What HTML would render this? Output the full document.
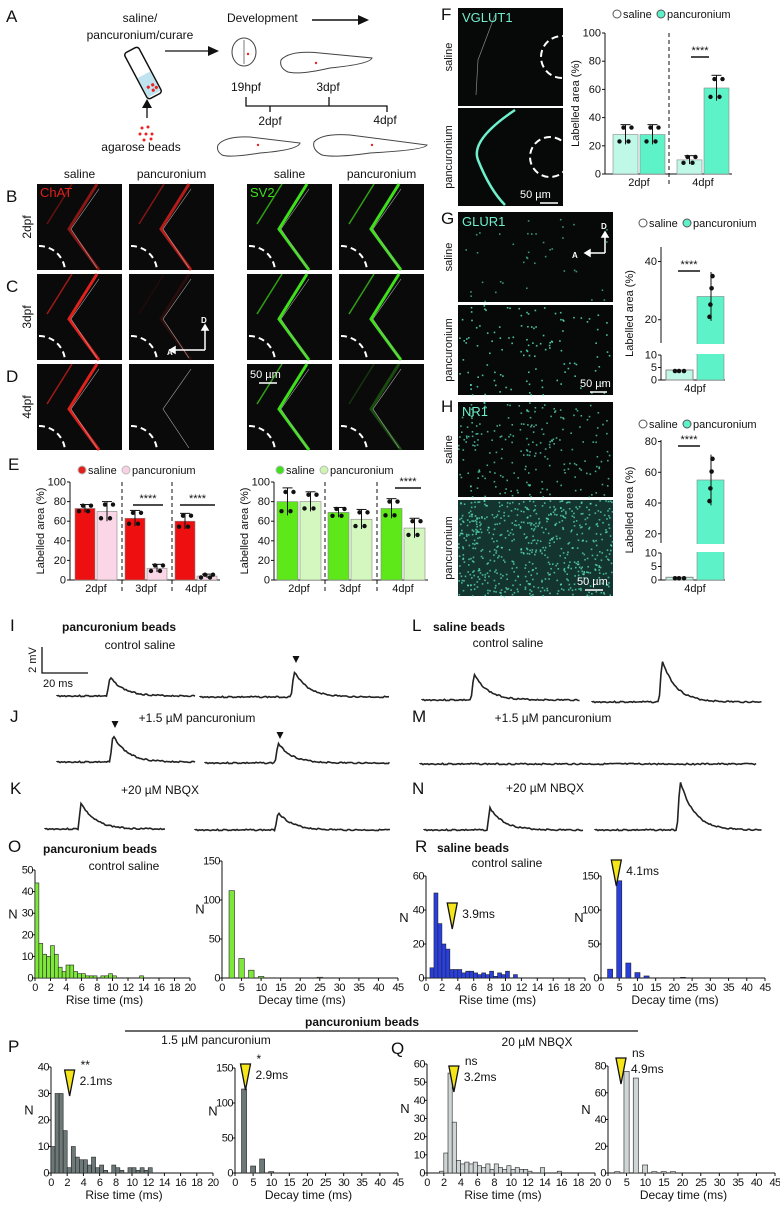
<!DOCTYPE html>
<html><head><meta charset="utf-8"><style>
html,body{margin:0;padding:0;background:#fff}
svg{display:block;font-family:"Liberation Sans",sans-serif}
.t{font-size:11px;fill:#111}
.tk{font-size:11px;fill:#111}
.L{font-size:17px;fill:#111}
.b{font-weight:bold}
</style></head><body>
<svg id="fig" width="780" height="1205" viewBox="0 0 780 1205">
<g>
<text class="L" x="6" y="22">A</text>
<text class="t" x="140" y="22" text-anchor="middle" style="font-size:12px">saline/</text>
<text class="t" x="140" y="39" text-anchor="middle" style="font-size:12px">pancuronium/curare</text>
<g transform="translate(143,73) rotate(-28)">
<rect x="-8" y="-26" width="16" height="52" rx="3" fill="#fff" stroke="#111" stroke-width="1.5"/>
<rect x="-7" y="2" width="14" height="22" fill="#bfe4ef"/>
<circle cx="-2" cy="15" r="1.6" fill="#e22"/><circle cx="3" cy="15" r="1.6" fill="#e22"/><circle cx="1" cy="20" r="1.6" fill="#e22"/><circle cx="5" cy="19" r="1.6" fill="#e22"/>
</g>
<line x1="165" y1="51" x2="210" y2="51" stroke="#111" stroke-width="1.3"/><polygon points="208,46 219,51 208,56" fill="#111"/>
<line x1="147" y1="118" x2="147" y2="106" stroke="#111" stroke-width="1.3"/><polygon points="142,108 147,99 152,108" fill="#111"/>
<g fill="#e22"><circle cx="142" cy="128" r="1.5"/><circle cx="148" cy="127" r="1.5"/><circle cx="140" cy="134" r="1.5"/><circle cx="146" cy="134" r="1.5"/><circle cx="152" cy="134" r="1.5"/><circle cx="144" cy="140" r="1.5"/><circle cx="151" cy="139" r="1.5"/></g>
<text class="t" x="141" y="151" text-anchor="middle" style="font-size:12px">agarose beads</text>
<text class="t" x="227" y="22" style="font-size:12px">Development</text>
<line x1="312" y1="20" x2="360" y2="20" stroke="#111" stroke-width="1.5"/><polygon points="358,15 369,20 358,25" fill="#111"/>
<ellipse cx="244" cy="52" rx="12" ry="14" fill="#fff" stroke="#444"/><line x1="244" y1="40" x2="244" y2="64" stroke="#444" stroke-width="0.7"/><circle cx="248" cy="54" r="1.2" fill="#e22"/>
<path d="M281,60 Q290,50 320,53 L372,58 Q370,64 330,68 Q300,75 288,72 Q279,68 281,60Z" fill="#fff" stroke="#444"/><circle cx="316" cy="63" r="1.2" fill="#e22"/>
<text class="t" x="246" y="91" text-anchor="middle" style="font-size:12px">19hpf</text>
<text class="t" x="328" y="91" text-anchor="middle" style="font-size:12px">3dpf</text>
<path d="M246,97 V106 H387 V112 M270,106 V112 M329,106 V97" fill="none" stroke="#111" stroke-width="1.3"/>
<text class="t" x="270" y="125" text-anchor="middle" style="font-size:12px">2dpf</text>
<text class="t" x="385" y="124" text-anchor="middle" style="font-size:12px">4dpf</text>
<path d="M218,145 Q225,136 250,137 L300,143 Q298,150 260,153 Q230,158 222,155 Q216,151 218,145Z" fill="#fff" stroke="#444"/><circle cx="258" cy="145" r="1.2" fill="#e22"/>
<path d="M314,142 Q322,133 350,135 L427,145 Q425,150 370,153 Q335,158 322,155 Q312,150 314,142Z" fill="#fff" stroke="#444"/><circle cx="372" cy="145" r="1.2" fill="#e22"/>
</g>
<g id="micro"></g>
<g id="echarts"></g>
<g id="fgh"></g>
<g id="traces"></g>
<g id="hists"></g>
</svg>
<script>
const eCategories = ["2dpf","3dpf","4dpf"];
const eChatSaline = [73,63,60];
const eChatPanc = [70,12,4];
const eChatSalineSd = [4,8,8];
const eChatPancSd = [10,4,2];
const eSv2Saline = [80,69,73];
const eSv2Panc = [80,62,53];
const eSv2SalineSd = [14,5,10];
const eSv2PancSd = [10,10,10];
const fCategories = ["2dpf","4dpf"];
const fSaline = [28,10];
const fPanc = [28,61];
const fSalineSd = [7,3];
const fPancSd = [7,9];
const gSaline = [4];
const gPanc = [28];
const hSaline = [1];
const hPanc = [55];
const riseTicks = [0,2,4,6,8,10,12,14,16,18,20];
const decayTicks = [0,5,10,15,20,25,30,35,40,45];
const oRise = [44,16,11,10,15,11,5,3,6,6,3,2,2,1,1,1,0,1,1,2,1,0,0,0,0,0,0,1];
const oDecay = [112,25,10,2,0,0,0,0,0,1];
const rRise = [0,6,50,32,20,17,5,5,5,3,4,4,3,2,3,2,4,1,3,2,4,0,2];
const rDecay = [13,143,22,8,3,0,0,0,1];
const pRise = [10,30,30,16,2,10,6,5,5,3,6,2,3,1,0,3,2,1,0,2,2,1,2,1,2];
const pDecay = [120,10,20,2];
const qRise = [0,0,0,1,11,55,28,7,5,6,5,6,4,3,5,2,5,3,2,4,2,3,2,2,1,0,0,3,0,0,0,1];
const qDecay = [1,76,71,6,1,1,1];
const traceAmps = {i:[19,26],j:[27,20],k:[26,18],l:[26,42],n:[22,50]};

const NS="http://www.w3.org/2000/svg";
function mk(parent,tag,attrs,text){const e=document.createElementNS(NS,tag);for(const k in attrs)e.setAttribute(k,attrs[k]);if(text!==undefined)e.textContent=text;parent.appendChild(e);return e;}

const micro=document.getElementById('micro');
const cols=[37,129,247,339], rows=[184,274,364], colW=85, rowH=86;
const colLabels=["saline","pancuronium","saline","pancuronium"];
cols.forEach((x,i)=>{const t=mk(micro,'text',{class:'t',x:x+colW/2,y:178,'text-anchor':'middle',style:'font-size:12px'},colLabels[i]);});
["B","C","D"].forEach((L,r)=>{mk(micro,'text',{class:'L',x:6,y:rows[r]+18},L);const t=mk(micro,'text',{class:'t',transform:`translate(31,${rows[r]+43}) rotate(-90)`,'text-anchor':'middle',style:'font-size:12px'},["2dpf","3dpf","4dpf"][r]);});
const strength=[[0.6,0.8,1,1],[1,0.15,1,1],[1,0,1,0.3]];
rows.forEach((y,r)=>cols.forEach((x,c)=>{
  const g=mk(micro,'g',{});
  
  
  mk(g,'rect',{x:x,y:y,width:colW,height:rowH,fill:'#0a0a0a'});
  const col=c<2?'#e0201a':'#3ee01a';const s=strength[r][c];
  const d=`M${x+60},${y} L${x+32},${y+45} L${x+62},${y+rowH}`;
  mk(g,'path',{d:d,stroke:col,'stroke-width':3,fill:'none',opacity:s});
  mk(g,'path',{d:`M${x+35},${y} L${x+10},${y+40}`,stroke:col,'stroke-width':1.5,fill:'none',opacity:s*0.7});
  mk(g,'path',{d:`M${x+62},${y+5} L${x+34},${y+45} L${x+60},${y+rowH-2}`,stroke:'#aaa','stroke-width':0.6,fill:'none'});
  mk(g,'path',{d:`M${x+2},${y+rowH-24} A26 26 0 0 1 ${x+28},${y+rowH}`,stroke:'#fff','stroke-width':2,'stroke-dasharray':'6 4',fill:'none'});
}));
mk(micro,'text',{x:40,y:197,fill:'#e0201a',style:'font-size:13px'},"ChAT");
mk(micro,'text',{x:250,y:197,fill:'#3ee01a',style:'font-size:13px'},"SV2");
mk(micro,'text',{x:250,y:378,fill:'#fff',style:'font-size:11px'},"50 µm");
mk(micro,'line',{x1:259,y1:383,x2:277,y2:383,stroke:'#fff','stroke-width':1.5});
mk(micro,'path',{d:'M205,350 H170 M170,350 l5,-3 v6z M205,350 V325 M205,325 l-3,5 h6z',stroke:'#fff','stroke-width':1.5,fill:'#fff'});
mk(micro,'text',{x:167,y:355,fill:'#fff',style:'font-size:8px','font-weight':'bold'},"A");
mk(micro,'text',{x:201,y:323,fill:'#fff',style:'font-size:8px','font-weight':'bold'},"D");

function barChart(g,o){
  const y=v=>o.y0-(v-o.vmin)/(o.vmax-o.vmin)*(o.y0-o.y1);
  mk(g,'line',{x1:o.ax,y1:o.y1,x2:o.ax,y2:o.y0,stroke:'#111'});
  mk(g,'line',{x1:o.ax,y1:o.y0,x2:o.xEnd,y2:o.y0,stroke:'#111'});
  o.ticks.forEach(t=>{mk(g,'line',{x1:o.ax-3,y1:y(t),x2:o.ax,y2:y(t),stroke:'#111'});mk(g,'text',{class:'tk',x:o.ax-4,y:y(t)+3.5,'text-anchor':'end'},t);});
  mk(g,'text',{class:'t',transform:`translate(${o.ax-26},${(o.y0+o.y1)/2}) rotate(-90)`,'text-anchor':'middle'},"Labelled area (%)");
  o.groups.forEach((gx,i)=>{
    [[o.s,o.ssd,o.c1,0],[o.p,o.psd,o.c2,1]].forEach(([arr,sd,c,k])=>{
      const bx=gx+k*(o.bw+2), v=arr[i];
      const r=mk(g,'rect',{x:bx,y:y(v),width:o.bw,height:o.y0-y(v),fill:c,stroke:'#888','stroke-width':0.6});
      
      
      const cx=bx+o.bw/2, e=sd?sd[i]:0;
      mk(g,'line',{x1:cx,y1:y(Math.min(o.vmax,v+e)),x2:cx,y2:y(Math.max(o.vmin,v-e)),stroke:'#111'});
      mk(g,'line',{x1:cx-5,y1:y(Math.min(o.vmax,v+e)),x2:cx+5,y2:y(Math.min(o.vmax,v+e)),stroke:'#111'});
      [-6,-2,3,6].forEach((dx,j)=>mk(g,'circle',{cx:cx+dx,cy:y(Math.max(o.vmin,v+(j%2?1:-1)*e*0.7)),r:2.2,fill:'#111'}));
    });
    mk(g,'text',{class:'tk',x:gx+o.bw+1,y:o.y0+12,'text-anchor':'middle'},o.cats[i]);
  });
  (o.dash||[]).forEach(dx=>mk(g,'line',{x1:dx,y1:o.y1,x2:dx,y2:o.y0+12,stroke:'#111','stroke-dasharray':'4 3'}));
  (o.sig||[]).forEach(s=>{mk(g,'line',{x1:s[0],y1:s[2],x2:s[1],y2:s[2],stroke:'#111','stroke-width':1.5});mk(g,'text',{class:'tk',x:(s[0]+s[1])/2,y:s[2]-3,'text-anchor':'middle'},"****");});
}
function legend(g,x,y,c1,c2,stroke){
  mk(g,'circle',{cx:x,cy:y-4,r:4,fill:c1,stroke:stroke});mk(g,'text',{class:'t',x:x+6,y:y},"saline");
  mk(g,'circle',{cx:x+44,cy:y-4,r:4,fill:c2,stroke:stroke});mk(g,'text',{class:'t',x:x+50,y:y},"pancuronium");
}
const E=document.getElementById('echarts');
mk(E,'text',{class:'L',x:8,y:470},"E");
legend(E,82,474,'#e0201a','#f9d0e4','#bbb');
legend(E,280,474,'#3ee01a','#cdf5b0','#bbb');
barChart(E,{ax:70,y0:580,y1:482,vmin:0,vmax:100,xEnd:220,ticks:[0,20,40,60,80,100],groups:[75,125,175],bw:20,cats:eCategories,s:eChatSaline,p:eChatPanc,ssd:eChatSalineSd,psd:eChatPancSd,c1:'#ee1010',c2:'#fad6e6',dash:[122,172],sig:[[133,163,505],[180,215,505]]});
barChart(E,{ax:274,y0:580,y1:482,vmin:0,vmax:100,xEnd:428,ticks:[0,20,40,60,80,100],groups:[277,328,381],bw:21,cats:eCategories,s:eSv2Saline,p:eSv2Panc,ssd:eSv2SalineSd,psd:eSv2PancSd,c1:'#5ee81a',c2:'#d3f7be',dash:[325,377],sig:[[395,421,488]]});

const F=document.getElementById('fgh');
function img(x,y,w,h,name){const g=mk(F,'g',{});mk(g,'rect',{x:x,y:y,width:w,height:h,fill:'#070808'});return g;}
mk(F,'text',{class:'L',x:441,y:20},"F");mk(F,'text',{class:'L',x:441,y:224},"G");mk(F,'text',{class:'L',x:441,y:412},"H");
[[8,106,"saline"],[108,206,"pancuronium"],[212,302,"saline"],[305,395,"pancuronium"],[402,497,"saline"],[500,596,"pancuronium"]].forEach(r=>mk(F,'text',{class:'t',transform:`translate(452,${(r[0]+r[1])/2}) rotate(-90)`,'text-anchor':'middle'},r[2]));
let g1=img(458,8,105,98,'vglut1-saline-image');mk(g1,'circle',{cx:562,cy:57,r:21,fill:'none',stroke:'#fff','stroke-width':2,'stroke-dasharray':'7 4'});mk(g1,'path',{d:'M495,15 L478,60 L476,95',stroke:'#888',fill:'none','stroke-width':0.7});
mk(F,'text',{x:462,y:22,fill:'#6ef0cc',style:'font-size:13px'},"VGLUT1");
let g2=img(458,108,105,98,'vglut1-pancuronium-image');mk(g2,'path',{d:'M515,110 Q470,140 478,160 Q490,190 505,205',stroke:'#6ef0cc',fill:'none','stroke-width':2.5});mk(g2,'circle',{cx:550,cy:157,r:20,fill:'none',stroke:'#fff','stroke-width':2,'stroke-dasharray':'7 4'});
mk(F,'text',{x:520,y:198,fill:'#fff',style:'font-size:11px'},"50 µm");mk(F,'line',{x1:540,y1:203,x2:558,y2:203,stroke:'#fff','stroke-width':1.5});
let g3=img(458,212,155,90,'glur1-saline-image');
let g4=img(458,305,155,90,'glur1-pancuronium-image');
mk(F,'text',{x:462,y:226,fill:'#6ef0cc',style:'font-size:13px'},"GLUR1");
mk(F,'text',{x:580,y:387,fill:'#fff',style:'font-size:11px'},"50 µm");mk(F,'line',{x1:590,y1:392,x2:607,y2:392,stroke:'#fff','stroke-width':1.5});
mk(F,'path',{d:'M605,253 H585 M585,253 l5,-3 v6z M605,253 V232 M605,232 l-3,5 h6z',stroke:'#fff','stroke-width':1.5,fill:'#fff'});
mk(F,'text',{x:572,y:258,fill:'#fff',style:'font-size:8px','font-weight':'bold'},"A");mk(F,'text',{x:601,y:229,fill:'#fff',style:'font-size:8px','font-weight':'bold'},"D");
let g5=img(458,402,155,95,'nr1-saline-image');
let g6=img(458,500,155,96,'nr1-pancuronium-image');mk(g6,'rect',{x:458,y:500,width:155,height:96,fill:'#1f5a52',opacity:0.55});
mk(F,'text',{x:462,y:416,fill:'#6ef0cc',style:'font-size:13px'},"NR1");
mk(F,'text',{x:577,y:585,fill:'#fff',style:'font-size:11px'},"50 µm");mk(F,'line',{x1:585,y1:590,x2:603,y2:590,stroke:'#fff','stroke-width':1.5});
function speckle(g,x,y,w,h,n,op){let s=7;for(let i=0;i<n;i++){s=(s*9301+49297)%233280;const a=s/233280;s=(s*9301+49297)%233280;const b=s/233280;mk(g,'rect',{x:x+a*w,y:y+b*h,width:1.6,height:1.6,fill:'#5ef0c8',opacity:op});}}
speckle(g3,458,212,155,90,40,0.6);speckle(g4,458,305,155,90,120,0.8);speckle(g5,458,402,155,95,220,0.7);speckle(g6,458,500,155,96,600,0.7);
legend(F,617,18,'#fff','#5ef0c8','#555');
barChart(F,{ax:605,y0:174,y1:33,vmin:0,vmax:100,xEnd:732,ticks:[0,20,40,60,80,100],groups:[613,677],bw:25,cats:fCategories,s:fSaline,p:fPanc,ssd:fSalineSd,psd:fPancSd,c1:'#c0f8e8',c2:'#5ef2c8',dash:[669],sig:[[691,709,57]]});
legend(F,643,227,'#fff','#5ef0c8','#555');
function brokenChart(o,s,p){
  const g=mk(F,'g',{});
  
  
  const yl=v=>o.y0-v/o.lowMax*(o.y0-o.yb1);
  const yh=v=>o.yb2-(v-o.hiMin)/(o.hiMax-o.hiMin)*(o.yb2-o.y1);
  const Y=v=>v<=o.lowMax?yl(v):yh(v);
  mk(g,'line',{x1:o.ax,y1:o.y1,x2:o.ax,y2:o.yb2,stroke:'#111'});mk(g,'line',{x1:o.ax,y1:o.yb1,x2:o.ax,y2:o.y0,stroke:'#111'});
  mk(g,'line',{x1:o.ax,y1:o.y0,x2:o.ax+64,y2:o.y0,stroke:'#111'});
  o.lowTicks.forEach(t=>{mk(g,'line',{x1:o.ax-3,y1:yl(t),x2:o.ax,y2:yl(t),stroke:'#111'});mk(g,'text',{class:'tk',x:o.ax-4,y:yl(t)+3.5,'text-anchor':'end'},t);});
  o.hiTicks.forEach(t=>{mk(g,'line',{x1:o.ax-3,y1:yh(t),x2:o.ax,y2:yh(t),stroke:'#111'});mk(g,'text',{class:'tk',x:o.ax-4,y:yh(t)+3.5,'text-anchor':'end'},t);});
  mk(g,'text',{class:'t',transform:`translate(${o.ax-28},${(o.y0+o.y1)/2}) rotate(-90)`,'text-anchor':'middle'},"Labelled area (%)");
  const b1=mk(g,'rect',{x:o.ax+5,y:Y(s[0]),width:27,height:o.y0-Y(s[0]),fill:'#c0f8e8',stroke:'#888'});
  
  
  const b2=mk(g,'rect',{x:o.ax+36,y:Y(p[0]),width:27,height:o.y0-Y(p[0]),fill:'#5ef2c8',stroke:'#888','stroke-width':0.6});
  
  
  mk(g,'rect',{x:o.ax+30,y:o.yb2+1,width:40,height:o.yb1-o.yb2-2,fill:'#fff'});
  mk(g,'line',{x1:o.ax+50,y1:Y(p[0]*1.3),x2:o.ax+50,y2:Y(p[0]*0.7),stroke:'#111'});
  [0.75,0.9,1.1,1.25].forEach(f=>mk(g,'circle',{cx:o.ax+44+f*6,cy:Y(p[0]*f),r:2.3,fill:'#111'}));
  [-4,0,5].forEach(dx=>mk(g,'circle',{cx:o.ax+18+dx,cy:Y(s[0])+1,r:2.3,fill:'#111'}));
  mk(g,'line',{x1:o.ax+17,y1:o.sigY,x2:o.ax+39,y2:o.sigY,stroke:'#111','stroke-width':1.5});
  mk(g,'text',{class:'tk',x:o.ax+28,y:o.sigY-3,'text-anchor':'middle'},"****");
  mk(g,'text',{class:'tk',x:o.ax+34,y:o.y0+12,'text-anchor':'middle'},"4dpf");
}
brokenChart({name:'glur1-chart',ax:661,y0:380,y1:247,yb1:355,yb2:343,lowMax:10,hiMin:12,hiMax:45,lowTicks:[0,5,10],hiTicks:[20,40],sigY:271},gSaline,gPanc);
legend(F,643,428,'#fff','#5ef0c8','#555');
brokenChart({name:'nr1-chart',ax:661,y0:580,y1:440,yb1:553,yb2:543,lowMax:10,hiMin:14,hiMax:81,lowTicks:[0,5,10],hiTicks:[20,40,60,80],sigY:446},hSaline,hPanc);

const T=document.getElementById('traces');
function trace(x0,x1,base,px,amp,name){
  let d=`M${x0},${base}`;let s=3;
  for(let x=x0;x<=x1;x+=1.5){let v=0;if(x>=px-3&&x<px)v=amp*(x-px+3)/3;else if(x>=px)v=amp*Math.exp(-(x-px)/14);s=(s*9301+49297)%233280;const n=(s/233280-0.5)*1.4;d+=` L${x.toFixed(1)},${(base-v+n).toFixed(1)}`;}
  const p=mk(T,'path',{d:d,stroke:'#222','stroke-width':1.6,fill:'none'});
  
  
}
[["I",10,631],["J",10,722],["K",10,794],["L",412,631],["M",412,722],["N",412,794]].forEach(a=>mk(T,'text',{class:'L',x:a[1],y:a[2]},a[0]));
mk(T,'text',{class:'t b',x:62,y:631,style:'font-size:12px'},"pancuronium beads");
mk(T,'text',{class:'t',x:140,y:649,'text-anchor':'middle',style:'font-size:12px'},"control saline");
mk(T,'text',{class:'t b',x:433,y:631,style:'font-size:12px'},"saline beads");
mk(T,'text',{class:'t',x:508,y:647,'text-anchor':'middle',style:'font-size:12px'},"control saline");
mk(T,'text',{class:'t',x:197,y:722,'text-anchor':'middle',style:'font-size:12px'},"+1.5 µM pancuronium");
mk(T,'text',{class:'t',x:553,y:722,'text-anchor':'middle',style:'font-size:12px'},"+1.5 µM pancuronium");
mk(T,'text',{class:'t',x:160,y:794,'text-anchor':'middle',style:'font-size:12px'},"+20 µM NBQX");
mk(T,'text',{class:'t',x:545,y:792,'text-anchor':'middle',style:'font-size:12px'},"+20 µM NBQX");
mk(T,'path',{d:'M42,647 V673 H88',stroke:'#111','stroke-width':1.3,fill:'none'});
mk(T,'text',{class:'t',transform:'translate(36,660) rotate(-90)','text-anchor':'middle'},"2 mV");
mk(T,'text',{class:'t',x:43,y:687},"20 ms");
trace(57,195,696,110,traceAmps.i[0],'trace-i-1');trace(200,390,697,294,traceAmps.i[1],'trace-i-2');
trace(57,195,762,113,traceAmps.j[0],'trace-j-1');trace(205,390,763,278,traceAmps.j[1],'trace-j-2');
trace(45,165,829,81,traceAmps.k[0],'trace-k-1');trace(195,390,830,278,traceAmps.k[1],'trace-k-2');
trace(422,580,700,474,traceAmps.l[0],'trace-l-1');trace(592,762,702,662,traceAmps.l[1],'trace-l-2');
trace(420,756,764,2000,0,'trace-m');
trace(424,583,830,490,traceAmps.n[0],'trace-n-1');trace(595,762,830,680,traceAmps.n[1],'trace-n-2');
[[296,662],[115,727],[280,738]].forEach(a=>mk(T,'polygon',{points:`${a[0]-3.5},${a[1]-6} ${a[0]+3.5},${a[1]-6} ${a[0]},${a[1]+1}`,fill:'#111'}));

const H=document.getElementById('hists');
function hist(o,vals){
  const g=mk(H,'g',{});
  
  
  const sx=v=>o.ax+v/o.xmax*o.w, sy=v=>o.y0-v/o.ymax*(o.y0-o.y1);
  mk(g,'line',{x1:o.ax,y1:o.y1,x2:o.ax,y2:o.y0,stroke:'#111'});
  mk(g,'line',{x1:o.ax,y1:o.y0,x2:o.ax+o.w,y2:o.y0,stroke:'#111'});
  o.yt.forEach(t=>{mk(g,'line',{x1:o.ax-3,y1:sy(t),x2:o.ax,y2:sy(t),stroke:'#111'});mk(g,'text',{class:'tk',x:o.ax-2,y:sy(t)+3.5,'text-anchor':'end',style:'font-size:11px;letter-spacing:-0.5px'},t);});
  o.xt.forEach(t=>{mk(g,'line',{x1:sx(t),y1:o.y0,x2:sx(t),y2:o.y0+3,stroke:'#111'});mk(g,'text',{class:'tk',x:sx(t),y:o.y0+13,'text-anchor':'middle',style:'font-size:11px;letter-spacing:-0.6px'},t);});
  vals.forEach((v,i)=>{if(!v)return;const x0=o.off+i*o.bin;const bw=o.bar||o.bin;
    const r=mk(g,'rect',{x:sx(x0),y:sy(v),width:sx(bw)-o.ax,height:o.y0-sy(v),fill:o.c,stroke:'#222','stroke-width':0.6});
    
    });
  mk(g,'text',{class:'t',x:o.ax+o.w/2-8,y:o.y0+26,'text-anchor':'middle',style:'font-size:12px'},o.xl);
  mk(g,'text',{class:'t',x:o.ax-22,y:o.y1+(o.y0-o.y1)*0.45,'text-anchor':'middle',style:'font-size:13px'},"N");
  if(o.mark){const mx=sx(o.mark[0]);mk(g,'polygon',{points:`${mx-5},${o.mark[1]} ${mx+5},${o.mark[1]} ${mx},${o.mark[1]+26}`,fill:'#f5e61a',stroke:'#111','stroke-width':1.3});
    mk(g,'text',{class:'t',x:mx+10,y:o.mark[1]+15,style:'font-size:12px'},o.mark[2]);
    if(o.mark[3])mk(g,'text',{class:'t',x:mx+11,y:o.mark[1]-1,style:'font-size:12px'},o.mark[3]);}
}
mk(H,'text',{class:'L',x:8,y:852},"O");mk(H,'text',{class:'L',x:415,y:852},"R");
mk(H,'text',{class:'t b',x:43,y:853,style:'font-size:12px'},"pancuronium beads");
mk(H,'text',{class:'t',x:124,y:870,'text-anchor':'middle',style:'font-size:12px'},"control saline");
mk(H,'text',{class:'t b',x:437,y:852,style:'font-size:12px'},"saline beads");
mk(H,'text',{class:'t',x:507,y:867,'text-anchor':'middle',style:'font-size:12px'},"control saline");
mk(H,'text',{class:'t b',x:362,y:1026,'text-anchor':'middle',style:'font-size:12px'},"pancuronium beads");
mk(H,'line',{x1:125,y1:1031,x2:638,y2:1031,stroke:'#111','stroke-width':1.3});
mk(H,'text',{class:'L',x:8,y:1052},"P");mk(H,'text',{class:'L',x:391,y:1054},"Q");
mk(H,'text',{class:'t',x:216,y:1044,'text-anchor':'middle',style:'font-size:12px'},"1.5 µM pancuronium");
mk(H,'text',{class:'t',x:537,y:1046,'text-anchor':'middle',style:'font-size:12px'},"20 µM NBQX");
hist({name:'o-rise-hist',ax:35,w:155,y0:978,y1:870,xmax:20,ymax:50,yt:[0,10,20,30,40,50],xt:riseTicks,bin:0.5,off:0,c:'#7ee83a',xl:'Rise time (ms)'},oRise);
hist({name:'o-decay-hist',ax:222,w:176,y0:978,y1:861,xmax:45,ymax:150,yt:[0,50,100,150],xt:decayTicks,bin:2.5,off:1.8,bar:1.4,c:'#7ee83a',xl:'Decay time (ms)'},oDecay);
hist({name:'r-rise-hist',ax:426,w:159,y0:978,y1:876,xmax:20,ymax:60,yt:[0,20,40,60],xt:riseTicks,bin:0.5,off:0,c:'#2a3fe0',xl:'Rise time (ms)',mark:[3.3,903,'3.9ms']},rRise);
hist({name:'r-decay-hist',ax:601,w:164,y0:978,y1:876,xmax:45,ymax:150,yt:[0,50,100,150],xt:decayTicks,bin:2.5,off:1.8,bar:1.4,c:'#2a3fe0',xl:'Decay time (ms)',mark:[4.2,860,'4.1ms']},rDecay);
hist({name:'p-rise-hist',ax:51,w:162,y0:1173,y1:1067,xmax:20,ymax:40,yt:[0,10,20,30,40],xt:riseTicks,bin:0.5,off:0,c:'#6d7878',xl:'Rise time (ms)',mark:[2.3,1070,'2.1ms','**']},pRise);
hist({name:'p-decay-hist',ax:235,w:163,y0:1173,y1:1068,xmax:45,ymax:150,yt:[0,50,100,150],xt:decayTicks,bin:2.5,off:1.8,bar:1.4,c:'#6d7878',xl:'Decay time (ms)',mark:[2.9,1064,'2.9ms','*']},pDecay);
hist({name:'q-rise-hist',ax:427,w:168,y0:1173,y1:1064,xmax:20,ymax:60,yt:[0,10,20,30,40,50,60],xt:riseTicks,bin:0.5,off:0,c:'#cfd4d4',xl:'Rise time (ms)',mark:[3.2,1066,'3.2ms','ns']},qRise);
hist({name:'q-decay-hist',ax:608,w:167,y0:1173,y1:1066,xmax:45,ymax:80,yt:[0,20,40,60,80],xt:decayTicks,bin:2.5,off:1.8,bar:1.4,c:'#cfd4d4',xl:'Decay time (ms)',mark:[3.5,1058,'4.9ms','ns']},qDecay);
</script>
</body></html>
